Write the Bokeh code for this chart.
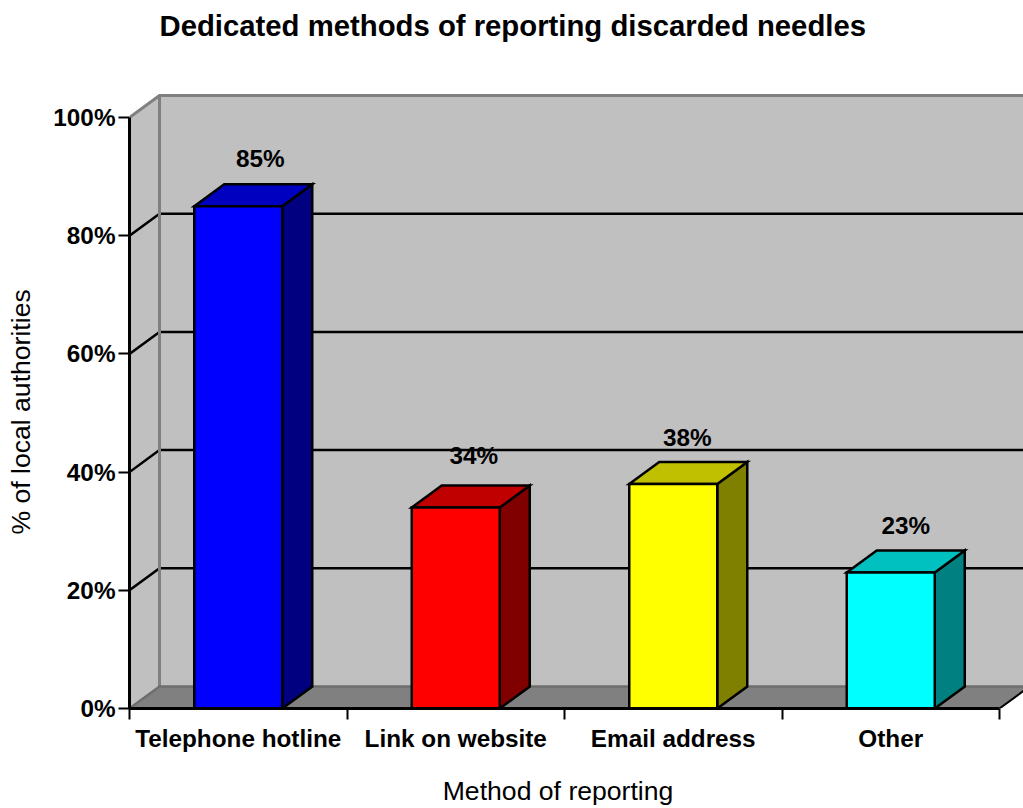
from bokeh.plotting import figure
from bokeh.models import FixedTicker, Range1d, ColumnDataSource
from bokeh.core.properties import value
from bokeh.embed import file_html
from bokeh.resources import INLINE

title = "Dedicated methods of reporting discarded needles"
x_title = "Method of reporting"
y_title = "% of local authorities"
categories = ["Telephone hotline", "Link on website", "Email address", "Other"]
percent = [85, 34, 38, 23]
label_lift = [48, 52, 46, 47]
label_shift = [22, 18, 14, 15]
front_colors = ["#0000ff", "#ff0000", "#ffff00", "#00ffff"]
side_colors = ["#000080", "#800000", "#808000", "#008080"]
top_colors = ["#0000c0", "#c00000", "#c0c000", "#00c0c0"]
y_ticks = [0, 20, 40, 60, 80, 100]

FONT = "Liberation Sans"
NBSP = "\u00a0"
DX = 30 / 217.5
DY = 22 / 5.91
BAR_W = 88 / 217.5
N = len(categories)
X_END = 894 / 217.5
Y_END = 667 / 5.91

p = figure(width=1023, height=808, output_backend="svg", toolbar_location=None,
           x_range=Range1d(0, X_END), y_range=Range1d(0, Y_END),
           min_border_left=129, min_border_right=0, min_border_top=41, min_border_bottom=100)
p.outline_line_color = None
p.grid.visible = False
p.background_fill_color = "white"
p.border_fill_color = "white"

p.title.text = title
p.title.text_font = FONT
p.title.text_font_size = "29.3px"
p.title.text_font_style = "bold"
p.title.text_color = "black"
p.title.align = "left"
p.title.offset = 30
p.title.standoff = 0

xa = p.xaxis[0]
xa.ticker = FixedTicker(ticks=[i + 0.5 for i in range(N)], minor_ticks=list(range(N + 1)))
xa.major_label_overrides = {i + 0.5: c for i, c in enumerate(categories)}
xa.major_tick_out = 0
xa.major_tick_in = 0
xa.minor_tick_out = 11
xa.minor_tick_in = 0
xa.minor_tick_line_color = "black"
xa.minor_tick_line_width = 2
xa.axis_line_color = "black"
xa.axis_line_width = 3
xa.bounds = (0, N)
xa.major_label_text_font = FONT
xa.major_label_text_font_size = "24.3px"
xa.major_label_text_font_style = "bold"
xa.major_label_text_color = "black"
xa.major_label_standoff = 5
xa.axis_label = x_title + NBSP * 5
xa.axis_label_text_font = FONT
xa.axis_label_text_font_size = "26.6px"
xa.axis_label_text_font_style = "normal"
xa.axis_label_text_color = "black"
xa.axis_label_standoff = 21

ya = p.yaxis[0]
ya.ticker = FixedTicker(ticks=y_ticks)
ya.major_label_overrides = {t: f"{t}%" for t in y_ticks}
ya.major_tick_out = 11
ya.major_tick_in = 0
ya.major_tick_line_color = "black"
ya.major_tick_line_width = 2
ya.minor_tick_out = 0
ya.minor_tick_in = 0
ya.axis_line_color = "black"
ya.axis_line_width = 3
ya.bounds = (0, 100)
ya.major_label_text_font = FONT
ya.major_label_text_font_size = "24.3px"
ya.major_label_text_font_style = "bold"
ya.major_label_text_color = "black"
ya.major_label_standoff = 3
ya.axis_label = y_title + NBSP * 10
ya.axis_label_text_font = FONT
ya.axis_label_text_font_size = "26.6px"
ya.axis_label_text_font_style = "normal"
ya.axis_label_text_color = "black"
ya.axis_label_standoff = 14

GREY = "#c0c0c0"
DARK = "#808080"
RIGHT = N + DX
# back wall, side wall, floor
p.patch([DX, RIGHT, RIGHT, DX], [DY, DY, 100 + DY, 100 + DY], fill_color=GREY, line_color=None)
p.patch([0, DX, DX, 0], [0, DY, 100 + DY, 100], fill_color=GREY, line_color=None)
p.patch([0, DX, RIGHT, N], [0, DY, DY, 0], fill_color=DARK, line_color=None)
# gridlines along side and back wall
inner = [t for t in y_ticks if 0 < t < 100]
p.multi_line([[0, DX, RIGHT] for _ in inner], [[t, t + DY, t + DY] for t in inner],
             line_color="black", line_width=2.5)
# wall edges
p.line([0, DX, RIGHT], [100, 100 + DY, 100 + DY], line_color=DARK, line_width=3)
p.line([DX, DX], [DY, 100 + DY], line_color=DARK, line_width=3)
p.line([0, DX, RIGHT], [0, DY, DY], line_color="#6e6e6e", line_width=2.5)
p.line([N, RIGHT], [0, DY], line_color="black", line_width=2)

# bars
for i, v in enumerate(percent):
    l = i + 0.5 - BAR_W / 2
    r = i + 0.5 + BAR_W / 2
    p.patch([r, r + DX, r + DX, r], [0, DY, v + DY, v], fill_color=side_colors[i],
            line_color="black", line_width=2.5, line_join="miter")
    p.patch([l, l + DX, r + DX, r], [v, v + DY, v + DY, v], fill_color=top_colors[i],
            line_color="black", line_width=2.5, line_join="miter")
    p.quad(left=l, right=r, bottom=0, top=v, fill_color=front_colors[i],
           line_color="black", line_width=2.5, line_join="miter")

src = ColumnDataSource(dict(x=[i + 0.5 for i in range(N)], y=percent,
                            t=[f"{v}%" for v in percent],
                            xo=label_shift, yo=[-d for d in label_lift]))
p.text("x", "y", text="t", x_offset="xo", y_offset="yo", source=src,
       text_font=value(FONT), text_font_size="24.3px", text_font_style="bold",
       text_color="black", text_align="center", text_baseline="middle")

open("out.html", "w").write(file_html(p, INLINE))
